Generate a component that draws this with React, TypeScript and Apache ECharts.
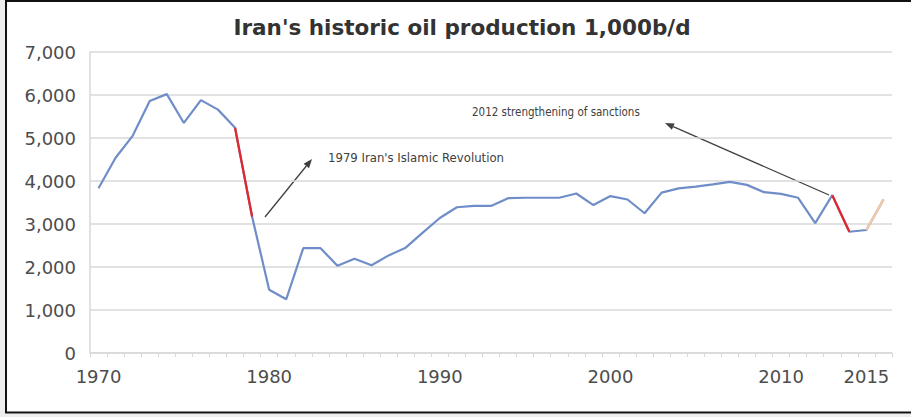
import React, { useEffect, useRef } from "react";
import * as echarts from "echarts";

const years = [
  "1970", "1971", "1972", "1973", "1974", "1975", "1976", "1977", "1978", "1979",
  "1980", "1981", "1982", "1983", "1984", "1985", "1986", "1987", "1988", "1989",
  "1990", "1991", "1992", "1993", "1994", "1995", "1996", "1997", "1998", "1999",
  "2000", "2001", "2002", "2003", "2004", "2005", "2006", "2007", "2008", "2009",
  "2010", "2011", "2012", "2013", "2014", "2015", "2016",
];

const production = [
  3830, 4540, 5050, 5860, 6020, 5350, 5880, 5660, 5240, 3170,
  1470, 1250, 2440, 2440, 2030, 2190, 2040, 2270, 2450, 2800,
  3140, 3390, 3420, 3420, 3600, 3610, 3610, 3610, 3710, 3440,
  3650, 3570, 3250, 3730, 3830, 3870, 3920, 3980, 3910, 3740,
  3700, 3610, 3020, 3670, 2820, 2860, 3570,
];

const redSegments = [["1978", "1979"], ["2013", "2014"]];
const orangeSegments = [["2015", "2016"]];
const labelYears = ["1970", "1980", "1990", "2000", "2010", "2015"];
const yTicks = [0, 1000, 2000, 3000, 4000, 5000, 6000, 7000];

const titleText = "Iran's historic oil production 1,000b/d";
const note1979 = "1979 Iran's Islamic Revolution";
const note2012 = "2012 strengthening of sanctions";

function segmentData(segs: string[][]) {
  return years.map((y, i) =>
    segs.some(([a, b]) => y >= a && y <= b) ? production[i] : null
  );
}

function arrow(x1: number, y1: number, x2: number, y2: number) {
  const ang = Math.atan2(y2 - y1, x2 - x1);
  const len = 9;
  const w = 3.5;
  const bx = x2 - len * Math.cos(ang);
  const by = y2 - len * Math.sin(ang);
  const px = -Math.sin(ang) * w;
  const py = Math.cos(ang) * w;
  return [
    {
      type: "line",
      shape: { x1, y1, x2: bx, y2: by },
      style: { stroke: "#404040", lineWidth: 1.3 },
      silent: true,
    },
    {
      type: "polygon",
      shape: { points: [[x2, y2], [bx + px, by + py], [bx - px, by - py]] },
      style: { fill: "#404040" },
      silent: true,
    },
  ];
}

export default function App() {
  const ref = useRef<HTMLDivElement>(null);
  useEffect(() => {
    if (!ref.current) return;
    const chart = echarts.init(ref.current, null, { renderer: "svg" });
    const font = "'DejaVu Sans', sans-serif";
    const condensed = "'DejaVu Sans Condensed', 'DejaVu Sans', sans-serif";
    chart.setOption({
      animation: false,
      backgroundColor: "#ffffff",
      grid: { left: 90, right: 19, top: 52, bottom: 64, containLabel: false },
      xAxis: {
        type: "category",
        data: years,
        boundaryGap: true,
        axisLine: { lineStyle: { color: "#d9d9d9", width: 1.5 } },
        axisTick: { show: true, interval: 0, length: 4, lineStyle: { color: "#d9d9d9" } },
        axisLabel: {
          interval: (_i: number, v: string) => labelYears.includes(v),
          color: "#4d4d4d",
          fontFamily: font,
          fontSize: 18,
          margin: 14,
        },
        splitLine: { show: false },
      },
      yAxis: {
        type: "value",
        min: yTicks[0],
        max: yTicks[yTicks.length - 1],
        interval: 1000,
        axisLine: { show: true, lineStyle: { color: "#d9d9d9", width: 1.5 } },
        axisTick: { show: false },
        axisLabel: {
          color: "#4d4d4d",
          fontFamily: font,
          fontSize: 18,
          margin: 14,
          formatter: (v: number) => v.toLocaleString("en-US"),
        },
        splitLine: { lineStyle: { color: "#d9d9d9", width: 1.5 } },
      },
      series: [
        {
          type: "line",
          data: production,
          symbol: "none",
          lineStyle: { color: "#6f8dc8", width: 2.2 },
          z: 2,
        },
        {
          type: "line",
          data: segmentData(redSegments),
          symbol: "none",
          connectNulls: false,
          lineStyle: { color: "#e3262b", width: 2.2 },
          z: 3,
        },
        {
          type: "line",
          data: segmentData(orangeSegments),
          symbol: "none",
          connectNulls: false,
          lineStyle: { color: "#f7c9a1", width: 2.2 },
          z: 3,
        },
      ],
      graphic: [
        {
          type: "rect",
          shape: { x: 0, y: 0, width: 5, height: 417 },
          style: { fill: "#eeeeee" },
          silent: true,
        },
        {
          type: "rect",
          shape: { x: 0, y: 414, width: 911, height: 3 },
          style: { fill: "#eeeeee" },
          silent: true,
        },
        {
          type: "polyline",
          shape: { points: [[911, 1], [6, 1], [6, 412.5], [911, 412.5]] },
          style: { stroke: "#111111", lineWidth: 2, fill: null },
          silent: true,
        },
        {
          type: "text",
          x: 462,
          y: 27,
          style: {
            text: titleText,
            fontFamily: font,
            fontWeight: "bold",
            fontSize: 21.5,
            fill: "#333333",
            align: "center",
            verticalAlign: "middle",
          },
          silent: true,
        },
        {
          type: "text",
          x: 328,
          y: 157,
          style: {
            text: note1979,
            fontFamily: condensed,
            fontSize: 13,
            fill: "#404040",
            align: "left",
            verticalAlign: "middle",
          },
          silent: true,
        },
        {
          type: "text",
          x: 472,
          y: 112,
          style: {
            text: note2012,
            fontFamily: condensed,
            fontSize: 11.5,
            fill: "#404040",
            align: "left",
            verticalAlign: "middle",
          },
          silent: true,
        },
        ...arrow(265, 217, 312, 159),
        ...arrow(829, 195, 665, 123),
      ],
    });
    return () => chart.dispose();
  }, []);
  return (
    <div
      ref={ref}
      style={{ position: "fixed", left: 0, top: 0, width: 911, height: 417 }}
    />
  );
}
